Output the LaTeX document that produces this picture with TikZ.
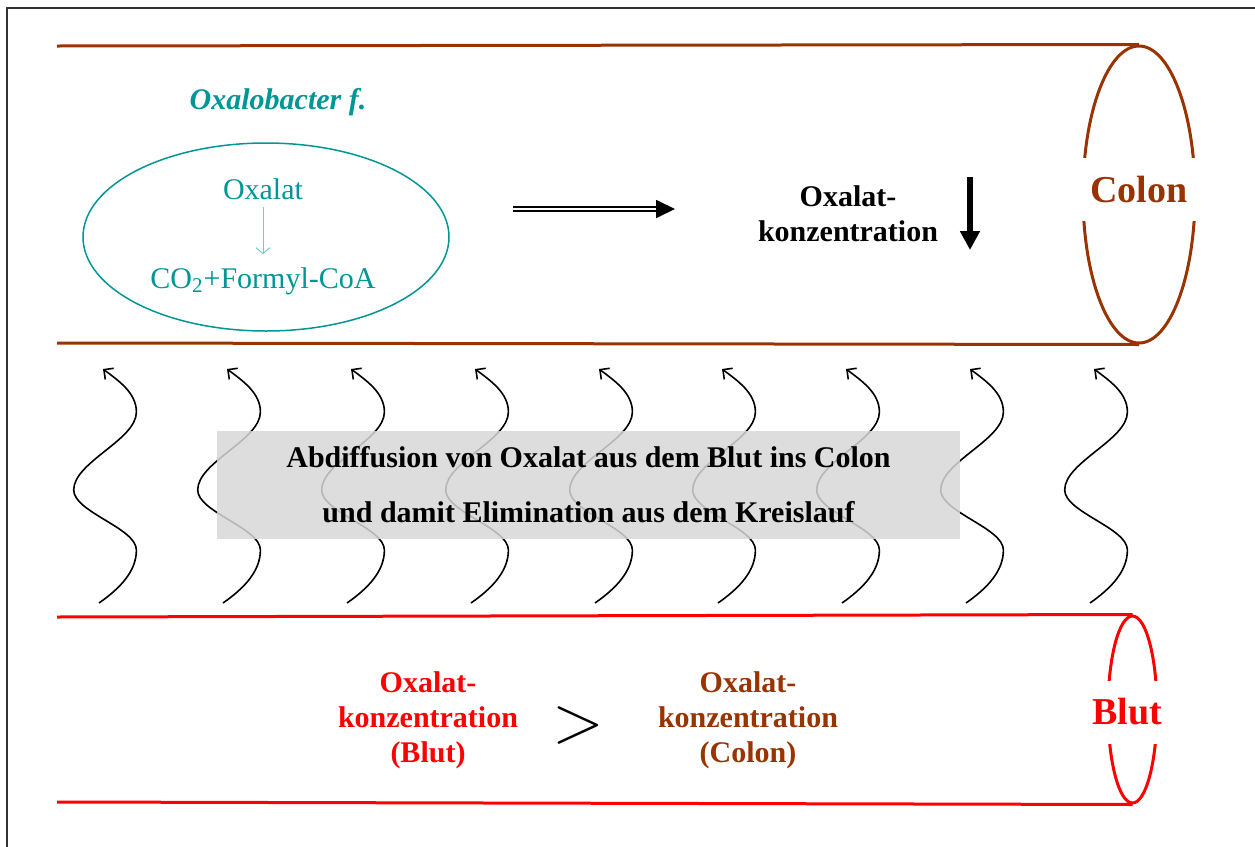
\RequirePackage{fix-cm}
\documentclass[tikz,border=0pt]{standalone}
\usepackage{fontspec}
\setmainfont{Liberation Serif}
\usetikzlibrary{shapes.geometric,arrows.meta}
\definecolor{colonbrown}{RGB}{153,51,0}
\definecolor{bactteal}{RGB}{0,150,150}
\definecolor{bactarrow}{RGB}{120,200,200}
\definecolor{boxgray}{RGB}{215,215,215}
\definecolor{framegray}{RGB}{50,50,50}

\begin{document}
\begin{tikzpicture}[x=0.5pt,y=-0.5pt]
	\tikzstyle{rim}=[ellipse, inner sep=0pt, line width=1.5pt]
	\tikzstyle{wall}=[line width=1.5pt]
	\tikzstyle{conc}=[align=center, font=\bfseries\fontsize{15}{17.5}\selectfont]
	\tikzstyle{organ}=[fill=white, inner sep=0pt, minimum height=31.5pt, font=\bfseries\fontsize{19}{19}\selectfont]
	\tikzstyle{wave}=[line width=0.8pt, -{Straight Barb[length=3.5pt,width=7pt]}]

	\useasboundingbox (0,0) rectangle (1255,847);
	\draw[framegray, line width=1pt] (7,847) -- (7,8) -- (1255,8);

	% Colon
	\node[rim, draw=colonbrown, minimum width=56pt, minimum height=148.5pt] (colonrim) at (1139,194.5) {};
	\coordinate (colontop) at (57,46);
	\coordinate (colonbot) at (57,343);
	\draw[wall, colonbrown] (colontop) -- (colonrim.north);
	\draw[wall, colonbrown] (colonbot) -- (colonrim.south);
	\node[organ, text=colonbrown, minimum width=80pt] (colonlbl) at (1139,189) {Colon};

	% Blut
	\node[rim, draw=red, minimum width=24.5pt, minimum height=93.5pt] (bloodrim) at (1132.5,709.5) {};
	\coordinate (bloodtop) at (57,617);
	\coordinate (bloodbot) at (57,802);
	\draw[wall, red] (bloodtop) -- (bloodrim.north);
	\draw[wall, red] (bloodbot) -- (bloodrim.south);
	\node[organ, text=red, minimum width=55pt] (bloodlbl) at (1127,712) {Blut};

	% Oxalobacter
	\node[rim, draw=bactteal, line width=0.75pt, minimum width=183pt, minimum height=94pt] (bact) at (266,237) {};
	\node[bactteal, font=\bfseries\itshape\fontsize{15}{18}\selectfont] (bactname) at (278,102) {Oxalobacter f.};
	\node[bactteal, font=\fontsize{15}{18}\selectfont] (ox) at (263,189) {Oxalat};
	\node[bactteal, font=\fontsize{15}{18}\selectfont] (prod) at (263,281) {CO\textsubscript{2}+Formyl-CoA};
	\draw[bactarrow, line width=0.5pt, -{Straight Barb[length=3pt,width=7pt]}, shorten >=3pt] (ox) -- (prod);

	\coordinate (dblfrom) at (513,209);
	\coordinate (dblto) at (675,209);
	\draw[double, double distance=1.2pt, line width=0.9pt, -{Triangle[length=9.5pt,width=9pt]}] (dblfrom) -- (dblto);

	\node[conc] (colonconc) at (848,214) {Oxalat-\\konzentration};
	\coordinate (dropfrom) at (970,177);
	\coordinate (dropto) at (970,250);
	\draw[line width=2.8pt, -{Triangle[length=9.5pt,width=9.5pt]}] (dropfrom) -- (dropto);

	% Diffusion
	\foreach \x in {103,227,351,475,599,722,846,970,1094}
	\draw[wave, shift={(\x,0)}] (-4,603) .. controls (16,589) and (33.4,572) .. (33.4,550) .. controls (33.4,528) and (-29.3,512) .. (-29.3,490) .. controls (-29.3,462) and (33.4,440) .. (33.4,412) .. controls (33.4,393) and (16,381) .. (0,369);

	\node[fill=boxgray, fill opacity=0.85, text opacity=1, minimum width=371.5pt, minimum height=54pt, align=center, font=\bfseries\fontsize{15}{27.5}\selectfont] (diffbox) at (588.5,485) {Abdiffusion von Oxalat aus dem Blut ins Colon\\und damit Elimination aus dem Kreislauf};

	% Konzentrationen
	\node[conc, red] (bloodconc) at (428,720) {Oxalat-\\konzentration\\(Blut)};
	\node[font=\fontsize{34}{34}\selectfont] (gt) at (578.5,725) {$>$};
	\node[conc, colonbrown] (colonconc2) at (748,720) {Oxalat-\\konzentration\\(Colon)};
\end{tikzpicture}
\end{document}
